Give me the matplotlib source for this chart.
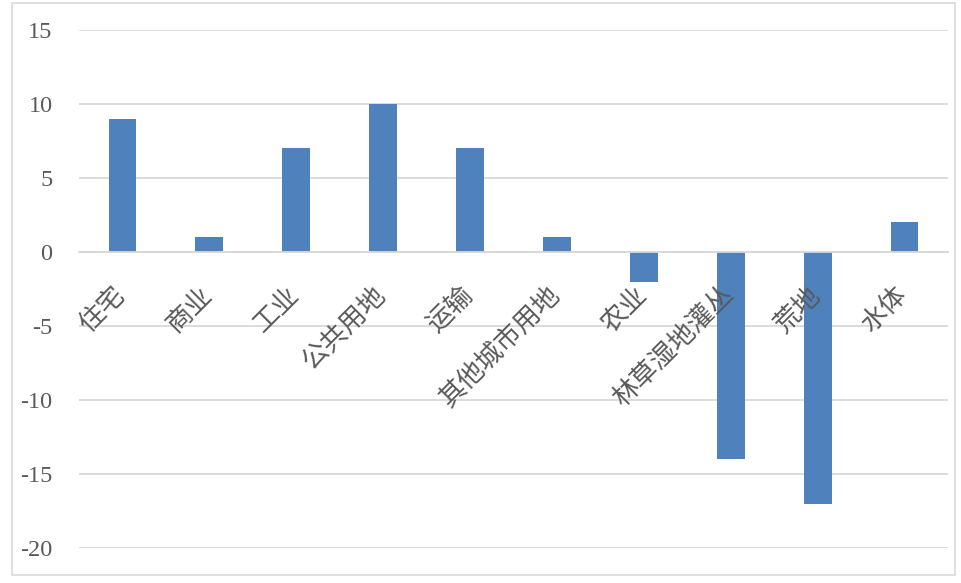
import matplotlib
matplotlib.use("Agg")
from matplotlib import pyplot as plt
from matplotlib.patches import Rectangle
from matplotlib.transforms import ScaledTranslation

categories = ['住宅', '商业', '工业', '公共用地', '运输', '其他城市用地', '农业', '林草湿地灌丛', '荒地', '水体']
values = [9, 1, 7, 10, 7, 1, -2, -14, -17, 2]
y_ticks = [-20, -15, -10, -5, 0, 5, 10, 15]

text_color = '#595959'
grid_color = '#D9D9D9'
bar_color = '#4F81BD'

fig = plt.figure(figsize=(9.62, 5.83), dpi=100)
ax = fig.add_axes([79 / 962, 35 / 583, 869 / 962, 518 / 583])

# 外框
fig.patches.append(Rectangle((12 / 962, 8 / 583), 943 / 962, 572 / 583,
                             transform=fig.transFigure, fill=False,
                             edgecolor=grid_color, linewidth=1.2))

x = list(range(len(categories)))
ax.bar(x, values, width=0.32, color=bar_color, zorder=2)

ax.set_xlim(-0.5, len(categories) - 0.5)
ax.set_ylim(-20, 15)
ax.set_yticks(y_ticks)
ax.set_yticklabels([str(v) for v in y_ticks], family='Liberation Serif',
                   fontsize=17.5, color=text_color)
ax.tick_params(axis='y', length=0, pad=19)
ax.grid(axis='y', color=grid_color, linewidth=1.3, zorder=0)
ax.set_axisbelow(True)

for s in ['top', 'right', 'left']:
    ax.spines[s].set_visible(False)
ax.spines['bottom'].set_position(('data', 0))
ax.spines['bottom'].set_color(grid_color)
ax.spines['bottom'].set_linewidth(1.3)
ax.set_xticks([])

# 类别标签画在柱子上面
shift = ScaledTranslation(8 / 100, -29 / 100, fig.dpi_scale_trans)
for xi, name in zip(x, categories):
    ax.text(xi, 0, name, transform=ax.transData + shift,
            family=['Noto Sans CJK SC', 'DejaVu Sans'], fontsize=19,
            color=text_color, rotation=45, ha='right', va='top',
            zorder=5, clip_on=False)

fig.savefig('out.png', dpi=100)
